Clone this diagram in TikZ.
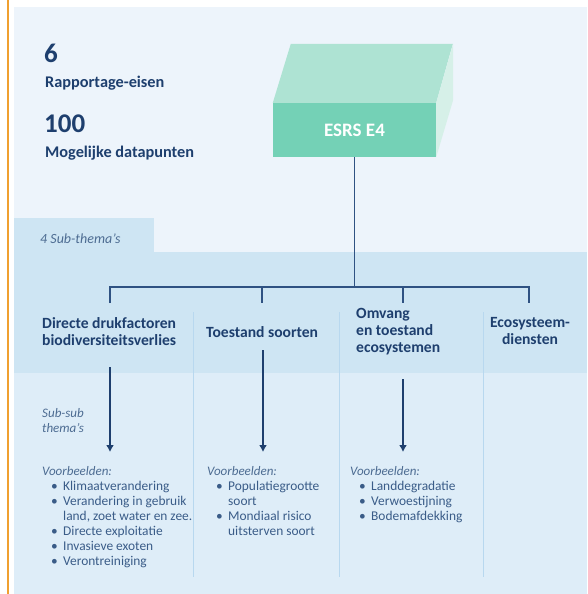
\documentclass[tikz,border=0pt]{standalone}
\usepackage{fontspec}
\setmainfont{Carlito}
\usetikzlibrary{arrows.meta}
\usetikzlibrary{positioning}
\usetikzlibrary{calc}
\definecolor{navy}{HTML}{1E3F6E}
\definecolor{lijn}{HTML}{2F5282}
\definecolor{tekst}{HTML}{3A5C88}
\definecolor{schuin}{HTML}{4D6C92}
\definecolor{paneel}{HTML}{EDF4FB}
\definecolor{band}{HTML}{CEE5F3}
\definecolor{onder}{HTML}{DEEDF8}
\definecolor{scheid}{HTML}{B8D8EF}
\definecolor{oranje}{HTML}{F0A030}
\definecolor{voorkant}{HTML}{74D1B6}
\definecolor{bovenkant}{HTML}{AEE3D3}
\definecolor{zijkant}{HTML}{D6F0E8}
\tikzstyle{tak}=[line width=1.5pt,color=lijn]
\tikzstyle{pijl}=[-{Latex[length=7pt,width=8pt]},line width=1.5pt,color=navy]
\newcommand{\punt}[1]{\hspace*{9pt}\makebox[12pt][l]{\textbullet}#1}
\newcommand{\verder}[1]{\hspace*{21pt}#1}

\begin{document}
\begin{tikzpicture}[x=1pt,y=-1pt]
    % stijlen voor de teksten
    \tikzstyle{getal}=[anchor=base west,inner sep=0pt,text=navy,font=\bfseries\fontsize{27}{30}\selectfont]
    \tikzstyle{label}=[anchor=base west,inner sep=0pt,text=navy,font=\bfseries\fontsize{16.3}{18}\selectfont]
    \tikzstyle{kop}=[anchor=north west,inner sep=0pt,align=left,text=navy,font=\bfseries\fontsize{15.6}{17}\selectfont]
    \tikzstyle{notitie}=[anchor=north west,inner sep=0pt,align=left,text=schuin,font=\itshape\fontsize{13}{15}\selectfont]
    \tikzstyle{lijst}=[anchor=north west,inner sep=0pt,align=left,text=tekst,font=\fontsize{13.4}{15}\selectfont]
    \tikzstyle{scheiding}=[line width=1pt,color=scheid]

    \useasboundingbox (0,0) rectangle (587,594);

    % achtergrond
    \fill[paneel] (14,7) rectangle (587,594);
    \fill[band] (14,218) rectangle (154,253);
    \fill[band] (14,252) rectangle (587,373);
    \fill[onder] (14,373) rectangle (587,594);
    \draw[oranje,line width=2.5pt] (8,0) -- (8,594);
    \draw[scheiding] (193,312) -- (193,577);
    \draw[scheiding] (339,312) -- (339,577);
    \draw[scheiding] (483,312) -- (483,577);

    % kerncijfers
    \node[getal] (zes) at (44,63) {6};
    \node[label] (eisen) at (45,88) {Rapportage-eisen};
    \node[getal] (honderd) at (44,132) {100};
    \node[label] (punten) at (45,157) {Mogelijke datapunten};

    % het blok
    \node[fill=voorkant,minimum width=163pt,minimum height=54pt,inner sep=0pt,
          text=white,font=\bfseries\fontsize{19}{21}\selectfont] (esrs) at (354.5,130)
          {ESRS E4};
    \fill[bovenkant] (esrs.north west) -- ++(18,-59) -- ++(162,0) -- (esrs.north east) -- cycle;
    \fill[zijkant] (esrs.north east) -- ++(17,-59) -- ++(0,56) -- (esrs.south east) -- cycle;

    \node[anchor=base west,inner sep=0pt,text=schuin,font=\itshape\fontsize{14}{16}\selectfont]
          (sub) at (40,243) {4 Sub-thema's};

    % de vier sub-thema's
    \node[kop] (kop1) at (42,317) {Directe drukfactoren\\biodiversiteitsverlies};
    \node[kop] (kop2) at (206,326) {Toestand soorten};
    \node[kop] (kop3) at (356,308) {Omvang\\en toestand\\ecosystemen};
    \node[kop,anchor=north,align=center] (kop4) at (530,317) {Ecosysteem-\\diensten};

    \coordinate (knoop) at (354.5,287);
    \coordinate (t1) at (110,303);
    \coordinate (t2) at (262,303);
    \coordinate (t3) at (403,303);
    \coordinate (t4) at (529,303);
    \draw[tak] (esrs.south) -- (knoop);
    \draw[tak] (t1) |- (knoop) -| (t4);
    \draw[tak] (knoop) -| (t2);
    \draw[tak] (knoop) -| (t3);

    % pijlen naar de voorbeelden
    \coordinate (p1a) at (110,367);
    \coordinate (p1b) at (110,452);
    \coordinate (p2a) at (263,350);
    \coordinate (p2b) at (263,452);
    \coordinate (p3a) at (403,379);
    \coordinate (p3b) at (403,452);
    \draw[pijl] (p1a) -- (p1b);
    \draw[pijl] (p2a) -- (p2b);
    \draw[pijl] (p3a) -- (p3b);

    \node[notitie] (subsub) at (42,408) {Sub-sub\\thema's};

    \node[lijst] (vb1) at (42,466) {{\itshape\fontsize{13}{15}\selectfont\color{schuin}Voorbeelden:}\\
        \punt{Klimaatverandering}\\
        \punt{Verandering in gebruik}\\
        \verder{land, zoet water en zee.}\\
        \punt{Directe exploitatie}\\
        \punt{Invasieve exoten}\\
        \punt{Verontreiniging}};
    \node[lijst] (vb2) at (207,466) {{\itshape\fontsize{13}{15}\selectfont\color{schuin}Voorbeelden:}\\
        \punt{Populatiegrootte}\\
        \verder{soort}\\
        \punt{Mondiaal risico}\\
        \verder{uitsterven soort}};
    \node[lijst] (vb3) at (350,466) {{\itshape\fontsize{13}{15}\selectfont\color{schuin}Voorbeelden:}\\
        \punt{Landdegradatie}\\
        \punt{Verwoestijning}\\
        \punt{Bodemafdekking}};
\end{tikzpicture}
\end{document}
